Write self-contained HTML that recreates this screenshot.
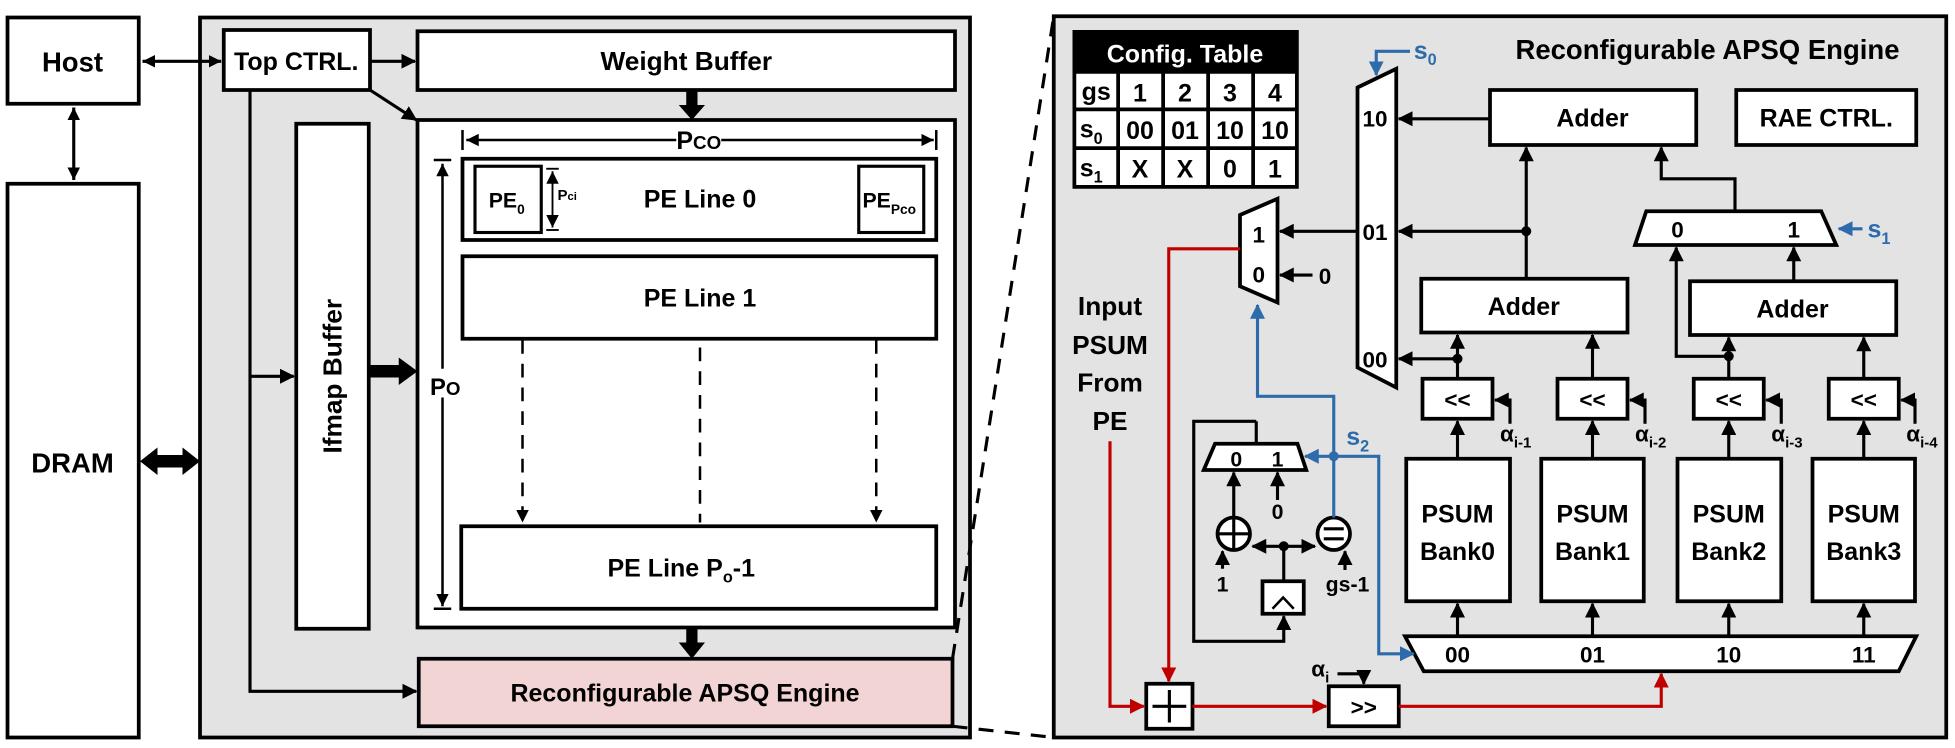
<!DOCTYPE html>
<html><head><meta charset="utf-8"><style>
html,body{margin:0;padding:0;background:#fff;}
svg{display:block;}
text{font-family:"Liberation Sans",sans-serif;font-weight:bold;fill:#000;}
</style></head><body>
<svg width="1955" height="748" viewBox="0 0 1564 598.4" xmlns="http://www.w3.org/2000/svg">
<defs>
<marker id="a" markerUnits="userSpaceOnUse" markerWidth="12" markerHeight="12" refX="11" refY="6" orient="auto"><path d="M0,0 L12,6 L0,12 Z" fill="#000"/></marker>
<marker id="as" markerUnits="userSpaceOnUse" markerWidth="10" markerHeight="10" refX="10" refY="5" orient="auto-start-reverse"><path d="M0,0 L10,5 L0,10 Z" fill="#000"/></marker>
<marker id="ab" markerUnits="userSpaceOnUse" markerWidth="12" markerHeight="12" refX="11" refY="6" orient="auto"><path d="M0,0 L12,6 L0,12 Z" fill="#2e6bab"/></marker>
<marker id="ar" markerUnits="userSpaceOnUse" markerWidth="12" markerHeight="12" refX="11" refY="6" orient="auto"><path d="M0,0 L12,6 L0,12 Z" fill="#c00000"/></marker>
</defs>
<g stroke="#000" stroke-width="3" fill="none">
<rect x="6" y="14" width="105" height="69" fill="#fff"/>
<rect x="6" y="147" width="105" height="443" fill="#fff"/>
<rect x="160" y="14" width="616" height="576" fill="#e3e3e3"/>
<rect x="179" y="24" width="117" height="48" fill="#fff"/>
<rect x="334" y="25" width="430" height="47" fill="#fff"/>
<rect x="334" y="96" width="430" height="406" fill="#fff"/>
<rect x="237" y="99" width="58" height="404" fill="#fff"/>
<rect x="370" y="127" width="379" height="65" fill="#fff"/>
<rect x="380" y="133" width="53" height="53" fill="#fff" stroke-width="2.5"/>
<rect x="687" y="133" width="52" height="53" fill="#fff" stroke-width="2.5"/>
<rect x="370" y="205" width="379" height="66" fill="#fff"/>
<rect x="369" y="421" width="380" height="66" fill="#fff"/>
<rect x="335" y="527" width="427" height="54" fill="#f2d4d4"/>
</g>
<g stroke="#000" stroke-width="2.5" fill="none">
<line x1="59" y1="86" x2="59" y2="144" marker-start="url(#as)" marker-end="url(#as)"/>
<line x1="114" y1="49" x2="177" y2="49" marker-start="url(#as)" marker-end="url(#as)"/>
<line x1="296" y1="49" x2="332" y2="49" marker-end="url(#a)"/>
<line x1="296" y1="72" x2="333" y2="96" marker-end="url(#a)"/>
<polyline points="200,72 200,553 333,553" marker-end="url(#a)"/>
<line x1="200" y1="301" x2="235" y2="301" marker-end="url(#a)"/>
<line x1="373" y1="112" x2="747" y2="112" stroke-width="2" marker-start="url(#as)" marker-end="url(#as)"/>
<line x1="370" y1="104" x2="370" y2="120" stroke-width="2"/><line x1="749" y1="104" x2="749" y2="120" stroke-width="2"/>
<line x1="442" y1="137" x2="442" y2="182" stroke-width="1.5" marker-start="url(#as)" marker-end="url(#as)"/>
<line x1="437" y1="135" x2="447" y2="135" stroke-width="1.5"/><line x1="437" y1="184" x2="447" y2="184" stroke-width="1.5"/>
<line x1="354" y1="131" x2="354" y2="295" stroke-width="2" marker-start="url(#as)"/>
<line x1="354" y1="318" x2="354" y2="485" stroke-width="2" marker-end="url(#as)"/>
<line x1="347" y1="128" x2="361" y2="128" stroke-width="2"/><line x1="347" y1="487" x2="361" y2="487" stroke-width="2"/>
<g stroke-dasharray="11,8" stroke-width="2">
<line x1="418" y1="272" x2="418" y2="418" marker-end="url(#as)"/>
<line x1="560" y1="278" x2="560" y2="418"/>
<line x1="701" y1="272" x2="701" y2="418" marker-end="url(#as)"/>
</g>
</g>
<g fill="#000">
<rect x="549" y="72" width="9" height="13"/><path d="M543,84 L564,84 L553.5,96 Z"/>
<rect x="549" y="502" width="9" height="14"/><path d="M543,514 L564,514 L553.5,527 Z"/>
<rect x="295" y="292" width="26" height="10"/><path d="M319,286 L334,297 L319,308 Z"/>
<rect x="124" y="364" width="24" height="10"/><path d="M126,358 L112,369 L126,380 Z"/><path d="M146,358 L160,369 L146,380 Z"/>
</g>
<g stroke="#000" stroke-width="2.5" stroke-dasharray="12,9" fill="none">
<line x1="762" y1="527" x2="843" y2="13"/>
<line x1="762" y1="581" x2="843" y2="590"/>
</g>
<text x="58" y="57" font-size="22" text-anchor="middle">Host</text>
<text x="58" y="378" font-size="22" text-anchor="middle">DRAM</text>
<text x="237" y="56" font-size="20" text-anchor="middle">Top CTRL.</text>
<text x="549" y="56" font-size="21" text-anchor="middle">Weight Buffer</text>
<text x="266" y="301" font-size="21" text-anchor="middle" transform="rotate(-90 266 301)" dy="7">Ifmap Buffer</text>
<text x="560" y="166" font-size="20" text-anchor="middle">PE Line 0</text>
<text x="560" y="245" font-size="20" text-anchor="middle">PE Line 1</text>
<text x="545" y="461" font-size="20" text-anchor="middle">PE Line P<tspan font-size="13" dy="5">o</tspan><tspan dy="-5">-1</tspan></text>
<text x="548" y="561" font-size="20" text-anchor="middle">Reconfigurable APSQ Engine</text>
<text x="391" y="166" font-size="17">PE<tspan font-size="11" dy="5">0</tspan></text>
<text x="690" y="166" font-size="17">PE<tspan font-size="11" dy="5">Pco</tspan></text>
<text x="446" y="160" font-size="12">P<tspan font-size="9">ci</tspan></text>
<rect x="541" y="100" width="36" height="22" fill="#fff"/>
<text x="559" y="119" font-size="20" text-anchor="middle">P<tspan font-size="15">CO</tspan></text>
<text x="344" y="316" font-size="19">P<tspan font-size="15">O</tspan></text>

<rect x="843" y="13" width="714" height="577" fill="#e3e3e3" stroke="#000" stroke-width="3"/>
<text x="1366" y="47" font-size="22" text-anchor="middle">Reconfigurable APSQ Engine</text>
<rect x="858" y="24" width="181" height="127" fill="#000"/>
<g fill="#fff">
<rect x="861" y="59" width="32" height="27"/><rect x="896" y="59" width="33" height="27"/><rect x="932" y="59" width="33" height="27"/><rect x="968" y="59" width="33" height="27"/><rect x="1004" y="59" width="32" height="27"/>
<rect x="861" y="89" width="32" height="28"/><rect x="896" y="89" width="33" height="28"/><rect x="932" y="89" width="33" height="28"/><rect x="968" y="89" width="33" height="28"/><rect x="1004" y="89" width="32" height="28"/>
<rect x="861" y="120" width="32" height="28"/><rect x="896" y="120" width="33" height="28"/><rect x="932" y="120" width="33" height="28"/><rect x="968" y="120" width="33" height="28"/><rect x="1004" y="120" width="32" height="28"/>
</g>
<text x="948" y="50" font-size="20" text-anchor="middle" style="fill:#fff">Config. Table</text>
<g font-size="20" text-anchor="middle">
<text x="877" y="80">gs</text><text x="912" y="81">1</text><text x="948" y="81">2</text><text x="984" y="81">3</text><text x="1020" y="81">4</text>
<text x="873" y="110">s<tspan font-size="13" dy="5">0</tspan></text><text x="912" y="111">00</text><text x="948" y="111">01</text><text x="984" y="111">10</text><text x="1020" y="111">10</text>
<text x="873" y="141">s<tspan font-size="13" dy="5">1</tspan></text><text x="912" y="142">X</text><text x="948" y="142">X</text><text x="984" y="142">0</text><text x="1020" y="142">1</text>
</g>
<g stroke="#000" stroke-width="3" fill="#fff">
<polygon points="1086,70 1117,55 1117,310 1086,294"/>
<polygon points="992,172 1022,159 1022,242 992,229"/>
<rect x="1192" y="72" width="165" height="44"/>
<rect x="1389" y="72" width="144" height="44"/>
<polygon points="1317,169 1457,169 1469,196 1308,196"/>
<rect x="1137" y="223" width="165" height="43"/>
<rect x="1352" y="225" width="165" height="43"/>
<rect x="1138" y="303" width="56" height="32"/><rect x="1246" y="303" width="56" height="32"/><rect x="1355" y="303" width="56" height="32"/><rect x="1463" y="303" width="56" height="32"/>
<rect x="1125" y="367" width="83" height="114"/><rect x="1233" y="367" width="82" height="114"/><rect x="1342" y="367" width="83" height="114"/><rect x="1450" y="367" width="82" height="114"/>
<polygon points="1124,509 1533,509 1519,537 1139,537"/>
<polygon points="972,355 1038,355 1045,376 963,376"/>
<circle cx="987" cy="427" r="13"/><circle cx="1067" cy="427" r="13"/>
<rect x="1010" y="465" width="33" height="26"/>
<rect x="917" y="547" width="37" height="36"/>
<rect x="1063" y="549" width="56" height="32"/>
</g>
<g stroke="#000" stroke-width="2.5" fill="none">
<line x1="987" y1="414" x2="987" y2="440"/><line x1="974" y1="427" x2="1000" y2="427"/>
<line x1="1059" y1="423" x2="1075" y2="423"/><line x1="1059" y1="431" x2="1075" y2="431"/>
<polyline points="1018,487 1026.5,478 1035,487" stroke-width="2"/>
<line x1="935.5" y1="552" x2="935.5" y2="578"/><line x1="922" y1="565" x2="949" y2="565"/>
<line x1="1192" y1="95" x2="1119" y2="95" marker-end="url(#a)"/>
<line x1="1221" y1="223" x2="1221" y2="118" marker-end="url(#a)"/>
<line x1="1221" y1="185" x2="1119" y2="185" marker-end="url(#a)"/>
<line x1="1086" y1="185" x2="1024" y2="185" marker-end="url(#a)"/>
<line x1="1050" y1="220" x2="1024" y2="220" marker-end="url(#a)"/>
<polyline points="1388,169 1388,143 1329,143 1329,118" marker-end="url(#a)"/>
<line x1="1435" y1="225" x2="1435" y2="198" marker-end="url(#a)"/>
<polyline points="1383,285 1341,285 1341,198" marker-end="url(#a)"/>
<line x1="1166" y1="303" x2="1166" y2="268" marker-end="url(#a)"/>
<line x1="1166" y1="287" x2="1119" y2="287" marker-end="url(#a)"/>
<line x1="1274" y1="303" x2="1274" y2="268" marker-end="url(#a)"/>
<line x1="1383" y1="303" x2="1383" y2="270" marker-end="url(#a)"/>
<line x1="1491" y1="303" x2="1491" y2="270" marker-end="url(#a)"/>
<line x1="1166" y1="367" x2="1166" y2="337" marker-end="url(#a)"/>
<line x1="1274" y1="367" x2="1274" y2="337" marker-end="url(#a)"/>
<line x1="1383" y1="367" x2="1383" y2="337" marker-end="url(#a)"/>
<line x1="1491" y1="367" x2="1491" y2="337" marker-end="url(#a)"/>
<line x1="1166" y1="509" x2="1166" y2="483" marker-end="url(#a)"/>
<line x1="1274" y1="509" x2="1274" y2="483" marker-end="url(#a)"/>
<line x1="1383" y1="509" x2="1383" y2="483" marker-end="url(#a)"/>
<line x1="1491" y1="509" x2="1491" y2="483" marker-end="url(#a)"/>
<polyline points="1208,339 1208,320 1196,320" marker-end="url(#a)"/>
<polyline points="1316,339 1316,320 1304,320" marker-end="url(#a)"/>
<polyline points="1425,339 1425,320 1413,320" marker-end="url(#a)"/>
<polyline points="1532,339 1532,320 1521,320" marker-end="url(#a)"/>
<line x1="1005" y1="355" x2="1005" y2="337"/>
<polyline points="1005,337 955,337 955,513 1027,513 1027,493" marker-end="url(#a)"/>
<line x1="1027" y1="465" x2="1027" y2="437"/>
<line x1="1027" y1="437" x2="1002" y2="437" marker-end="url(#a)"/>
<line x1="1027" y1="437" x2="1052" y2="437" marker-end="url(#a)"/>
<line x1="987" y1="414" x2="987" y2="378" marker-end="url(#a)"/>
<line x1="1022" y1="400" x2="1022" y2="378" marker-end="url(#a)"/>
<line x1="978" y1="455" x2="978" y2="441" marker-end="url(#a)"/>
<line x1="1076" y1="456" x2="1076" y2="441" marker-end="url(#a)"/>
<polyline points="1070,539 1091,539 1091,547" marker-end="url(#a)"/>
</g>
<g fill="#000"><circle cx="1221" cy="185" r="4"/><circle cx="1166" cy="287" r="4"/><circle cx="1383" cy="285" r="4"/><circle cx="1027" cy="437" r="4"/></g>
<g stroke="#2e6bab" stroke-width="2.5" fill="none">
<polyline points="1128,41 1101,41 1101,60" marker-end="url(#ab)"/>
<line x1="1490" y1="183" x2="1471" y2="183" marker-end="url(#ab)"/>
<polyline points="1067,414 1067,317 1006,317 1006,244" marker-end="url(#ab)"/>
<line x1="1067" y1="365" x2="1044" y2="365" marker-end="url(#ab)"/>
<polyline points="1067,365 1103,365 1103,523 1131,523" marker-end="url(#ab)"/>
</g>
<circle cx="1067" cy="365" r="4" fill="#2e6bab"/>
<g font-size="20">
<text x="1131" y="47" style="fill:#2e6bab">s<tspan font-size="13" dy="5">0</tspan></text>
<text x="1494" y="190" style="fill:#2e6bab">s<tspan font-size="13" dy="5">1</tspan></text>
<text x="1077" y="356" style="fill:#2e6bab">s<tspan font-size="13" dy="5">2</tspan></text>
</g>
<g stroke="#c00000" stroke-width="2.5" fill="none">
<polyline points="992,199 935,199 935,545" marker-end="url(#ar)"/>
<polyline points="888,353 888,565 915,565" marker-end="url(#ar)"/>
<line x1="954" y1="565" x2="1061" y2="565" marker-end="url(#ar)"/>
<polyline points="1119,565 1329,565 1329,539" marker-end="url(#ar)"/>
</g>
<g font-size="20" text-anchor="middle">
<text x="1274" y="101">Adder</text>
<text x="1461" y="101">RAE CTRL.</text>
<text x="1219" y="252">Adder</text>
<text x="1434" y="254">Adder</text>
<text x="1100" y="101" font-size="18">10</text>
<text x="1100" y="192" font-size="18">01</text>
<text x="1100" y="294" font-size="18">00</text>
<text x="1007" y="194" font-size="18">1</text>
<text x="1007" y="226" font-size="18">0</text>
<text x="1060" y="227" font-size="18">0</text>
<text x="1342" y="190" font-size="18">0</text>
<text x="1435" y="190" font-size="18">1</text>
<text x="989" y="373" font-size="17">0</text>
<text x="1022" y="373" font-size="17">1</text>
<text x="1022" y="415" font-size="17">0</text>
<text x="978" y="473" font-size="17">1</text>
<text x="1078" y="473" font-size="17">gs-1</text>
<text x="1166" y="326" font-size="18">&lt;&lt;</text><text x="1274" y="326" font-size="18">&lt;&lt;</text><text x="1383" y="326" font-size="18">&lt;&lt;</text><text x="1491" y="326" font-size="18">&lt;&lt;</text>
<text x="1091" y="572" font-size="18">&gt;&gt;</text>
<text x="1166" y="418">PSUM</text><text x="1166" y="448">Bank0</text>
<text x="1274" y="418">PSUM</text><text x="1274" y="448">Bank1</text>
<text x="1383" y="418">PSUM</text><text x="1383" y="448">Bank2</text>
<text x="1491" y="418">PSUM</text><text x="1491" y="448">Bank3</text>
<text x="1166" y="530" font-size="18">00</text><text x="1274" y="530" font-size="18">01</text><text x="1383" y="530" font-size="18">10</text><text x="1491" y="530" font-size="18">11</text>
<text x="888" y="252" font-size="21">Input</text>
<text x="888" y="283" font-size="21">PSUM</text>
<text x="888" y="313" font-size="21">From</text>
<text x="888" y="344" font-size="21">PE</text>
</g>
<g font-size="18">
<text x="1200" y="353">α<tspan font-size="12" dy="5">i-1</tspan></text>
<text x="1308" y="353">α<tspan font-size="12" dy="5">i-2</tspan></text>
<text x="1417" y="353">α<tspan font-size="12" dy="5">i-3</tspan></text>
<text x="1525" y="353">α<tspan font-size="12" dy="5">i-4</tspan></text>
<text x="1049" y="541">α<tspan font-size="12" dy="5">i</tspan></text>
</g>
</svg>
</body></html>
